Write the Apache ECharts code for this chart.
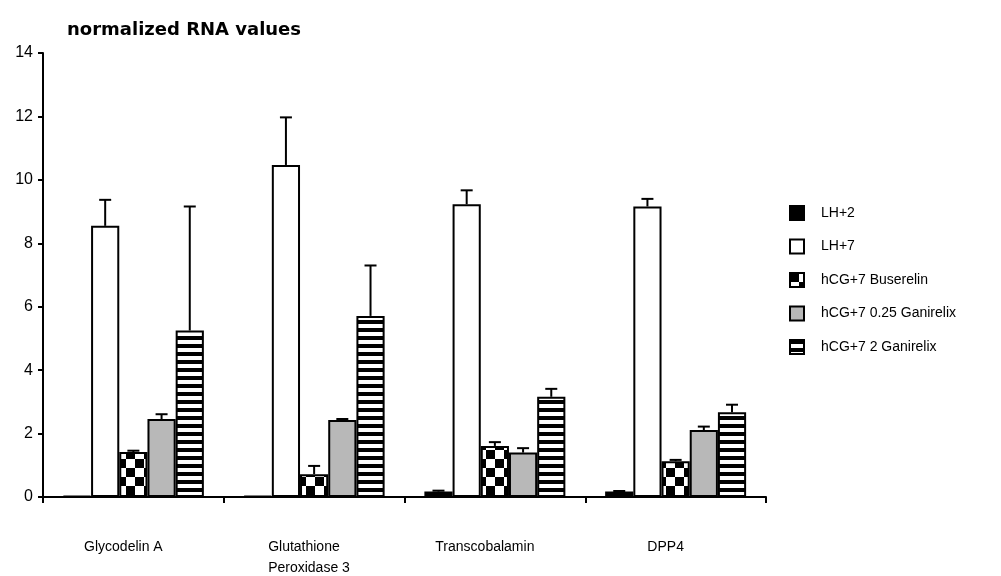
<!DOCTYPE html>
<html>
<head>
<meta charset="utf-8">
<script src="https://cdn.jsdelivr.net/npm/echarts@6/dist/echarts.min.js"></script>
<style>
html,body{margin:0;padding:0;background:#fff;}
#chart{width:1001px;height:576px;}
</style>
</head>
<body>
<div id="chart"></div>
<script>
// ---- data ----
const categories = ['Glycodelin A', 'Glutathione\nPeroxidase 3', 'Transcobalamin', 'DPP4'];
const seriesNames = ['LH+2', 'LH+7', 'hCG+7 Buserelin', 'hCG+7 0.25 Ganirelix', 'hCG+7 2 Ganirelix'];
const lh2 = [0.03, 0.03, 0.17, 0.17];
const lh2Err = [0, 0, 0.03, 0.02];
const lh7 = [8.55, 10.47, 9.23, 9.16];
const lh7Err = [0.82, 1.5, 0.44, 0.24];
const buserelin = [1.42, 0.72, 1.61, 1.13];
const buserelinErr = [0.04, 0.26, 0.12, 0.04];
const gan025 = [2.46, 2.43, 1.40, 2.11];
const gan025Err = [0.15, 0.03, 0.14, 0.11];
const gan2 = [5.25, 5.71, 3.16, 2.67];
const gan2Err = [3.91, 1.59, 0.25, 0.24];
const yTicks = [0, 2, 4, 6, 8, 10, 12, 14];
const titleText = 'normalized RNA values';

const values = [lh2, lh7, buserelin, gan025, gan2];
const errors = [lh2Err, lh7Err, buserelinErr, gan025Err, gan2Err];

// ---- patterns ----
function checkerPattern() {
  const c = document.createElement('canvas');
  c.width = 18; c.height = 18;
  const g = c.getContext('2d');
  g.fillStyle = '#fff'; g.fillRect(0, 0, 18, 18);
  g.fillStyle = '#000';
  g.fillRect(0, 0, 9, 9); g.fillRect(9, 9, 9, 9);
  return { image: c, repeat: 'repeat' };
}
function stripePattern() {
  const c = document.createElement('canvas');
  c.width = 8; c.height = 8;
  const g = c.getContext('2d');
  g.fillStyle = '#fff'; g.fillRect(0, 0, 8, 8);
  g.fillStyle = '#000'; g.fillRect(0, 0, 8, 4);
  return { image: c, repeat: 'repeat' };
}
const fills = ['#000000', '#ffffff', checkerPattern(), '#b8b8b8', stripePattern()];

const CAT_GAP = 0.22;
const N = seriesNames.length;

const series = [];
seriesNames.forEach((name, k) => {
  series.push({
    name: name,
    type: 'bar',
    data: values[k],
    barGap: '0%',
    barCategoryGap: (CAT_GAP * 100) + '%',
    itemStyle: { color: fills[k], borderColor: '#000', borderWidth: 2 },
    emphasis: { disabled: true },
    z: 2
  });
});
seriesNames.forEach((name, k) => {
  series.push({
    name: name + ' err',
    type: 'custom',
    z: 3,
    silent: true,
    data: values[k].map((v, i) => [i, v, errors[k][i]]),
    encode: { x: 0, y: 1 },
    renderItem: function (params, api) {
      const xi = api.value(0), v = api.value(1), e = api.value(2);
      if (!e) return null;
      const base = api.coord([xi, v]);
      const top = api.coord([xi, v + e]);
      const band = api.size([1, 0])[0];
      const groupW = band * (1 - CAT_GAP);
      const barW = groupW / N;
      const x = base[0] - groupW / 2 + barW * (k + 0.5);
      const style = { stroke: '#000', lineWidth: 2 };
      return {
        type: 'group',
        children: [
          { type: 'line', shape: { x1: x, y1: base[1], x2: x, y2: top[1] }, style: style },
          { type: 'line', shape: { x1: x - 6, y1: top[1], x2: x + 6, y2: top[1] }, style: style }
        ]
      };
    }
  });
});

const chart = echarts.init(document.getElementById('chart'));
chart.setOption({
  animation: false,
  backgroundColor: '#fff',
  title: {
    text: titleText,
    left: 62, top: 16,
    textStyle: { fontFamily: 'DejaVu Sans', fontWeight: 'bold', fontSize: 18, color: '#000' }
  },
  legend: {
    data: seriesNames,
    orient: 'vertical',
    left: 784, top: 200,
    itemWidth: 14, itemHeight: 14, itemGap: 17.5,
    icon: 'rect',
    textStyle: { fontFamily: 'Liberation Sans', fontSize: 14, color: '#000', padding: [0, 0, 0, 12] }
  },
  grid: { left: 43, right: 235, top: 53, bottom: 79, containLabel: false },
  xAxis: {
    type: 'category',
    data: categories,
    axisLine: { lineStyle: { color: '#000', width: 2 } },
    axisTick: { show: true, length: 6, interval: 0, lineStyle: { color: '#000', width: 2 } },
    axisLabel: {
      interval: 0, margin: 40, color: '#000',
      fontFamily: 'Liberation Sans', fontSize: 14,
      padding: [0, 20, 0, 0],
      formatter: function (val) {
        const lines = val.split('\n');
        if (lines.length > 1) return lines.map(l => '{l|' + l + '}').join('\n');
        return '{s|' + val + '}';
      },
      rich: {
        l: { width: 72, align: 'left', fontFamily: 'Liberation Sans', fontSize: 14, color: '#000', lineHeight: 21 },
        s: { fontFamily: 'Liberation Sans', fontSize: 14, color: '#000', lineHeight: 21 }
      }
    }
  },
  yAxis: {
    type: 'value',
    min: yTicks[0], max: yTicks[yTicks.length - 1], interval: yTicks[1] - yTicks[0],
    axisLine: { show: true, lineStyle: { color: '#000', width: 2 } },
    axisTick: { show: true, length: 5, lineStyle: { color: '#000', width: 2 } },
    splitLine: { show: false },
    axisLabel: { color: '#000', fontFamily: 'Liberation Sans', fontSize: 16, margin: 10 }
  },
  series: series
});
</script>
</body>
</html>
